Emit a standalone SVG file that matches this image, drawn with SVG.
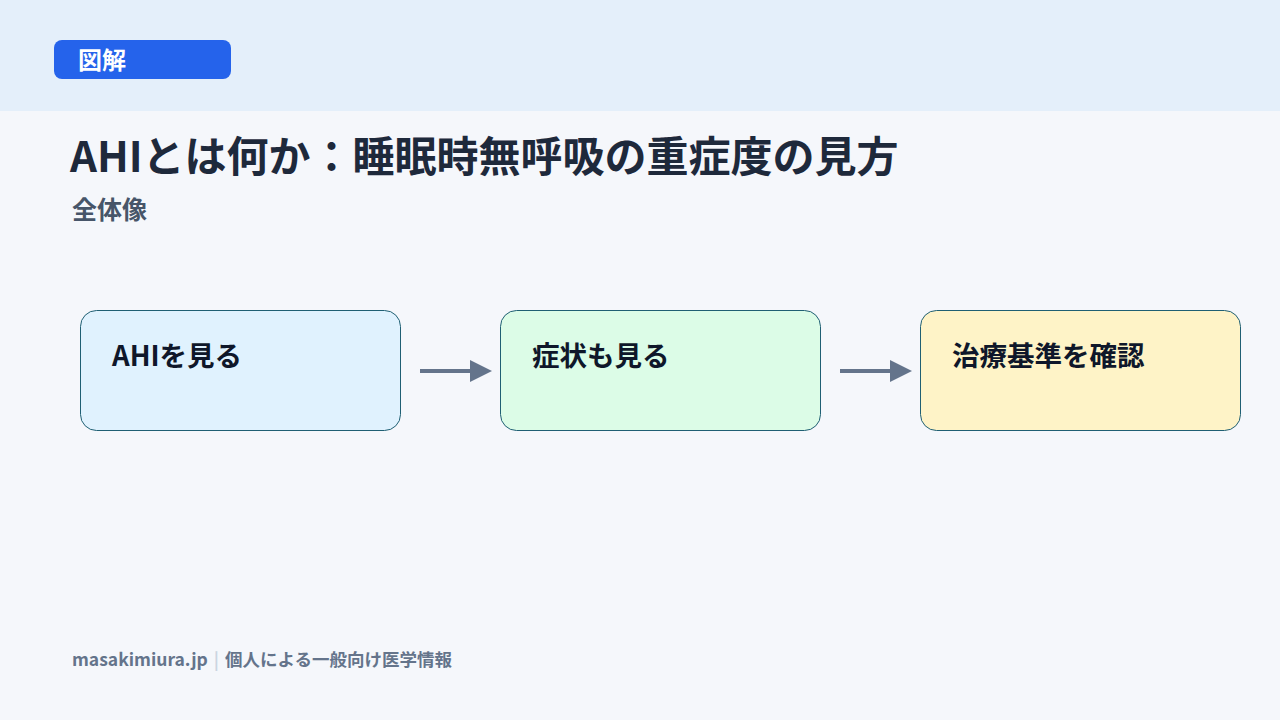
<svg xmlns="http://www.w3.org/2000/svg" width="1280" height="720" viewBox="0 0 1280 720">
<style>
text{font-family:"Noto Sans CJK JP","Noto Sans",sans-serif;font-weight:700}
.box{stroke:#1f5f73;stroke-width:1}
.lbl{font-size:27.5px;fill:#0f172a}
.con{stroke:#64748b;stroke-width:4;fill:none}
</style>
<defs><marker id="ah" viewBox="0 0 10 10" refX="0" refY="5" markerWidth="5.5" markerHeight="6.5" markerUnits="strokeWidth" orient="auto"><path d="M0,0L10,5L0,10z" fill="#64748b"/></marker></defs>
<rect width="1280" height="720" fill="#f5f7fb"/>
<rect width="1280" height="111" fill="#e4effa"/>
<g id="tag"><rect x="54" y="40" width="177" height="39" rx="8" fill="#2563eb"/><text x="78" y="69" font-size="24" fill="#fff">図解</text></g>
<text x="70" y="172" font-size="42" fill="#1e293b">AHIとは何か：睡眠時無呼吸の重症度の見方</text>
<text x="72" y="219" font-size="25" fill="#475569">全体像</text>
<g id="n1"><rect class="box" x="80.500" y="310.500" width="320" height="120" rx="16" fill="#e0f2fe"/><text class="lbl" x="112" y="366">AHIを見る</text></g>
<g id="n2"><rect class="box" x="500.500" y="310.500" width="320" height="120" rx="16" fill="#dcfce7"/><text class="lbl" x="532" y="366">症状も見る</text></g>
<g id="n3"><rect class="box" x="920.500" y="310.500" width="320" height="120" rx="16" fill="#fef3c7"/><text class="lbl" x="952" y="366">治療基準を確認</text></g>
<g id="connectors">
<line class="con" x1="420" y1="371" x2="470" y2="371" marker-end="url(#ah)"/>
<line class="con" x1="840" y1="371" x2="890" y2="371" marker-end="url(#ah)"/>
</g>
<text x="72" y="666" font-size="17.5" fill="#64748b">masakimiura.jp<tspan fill="#cbd5e1" dx="6">|</tspan><tspan dx="6">個人による一般向け医学情報</tspan></text>
</svg>
